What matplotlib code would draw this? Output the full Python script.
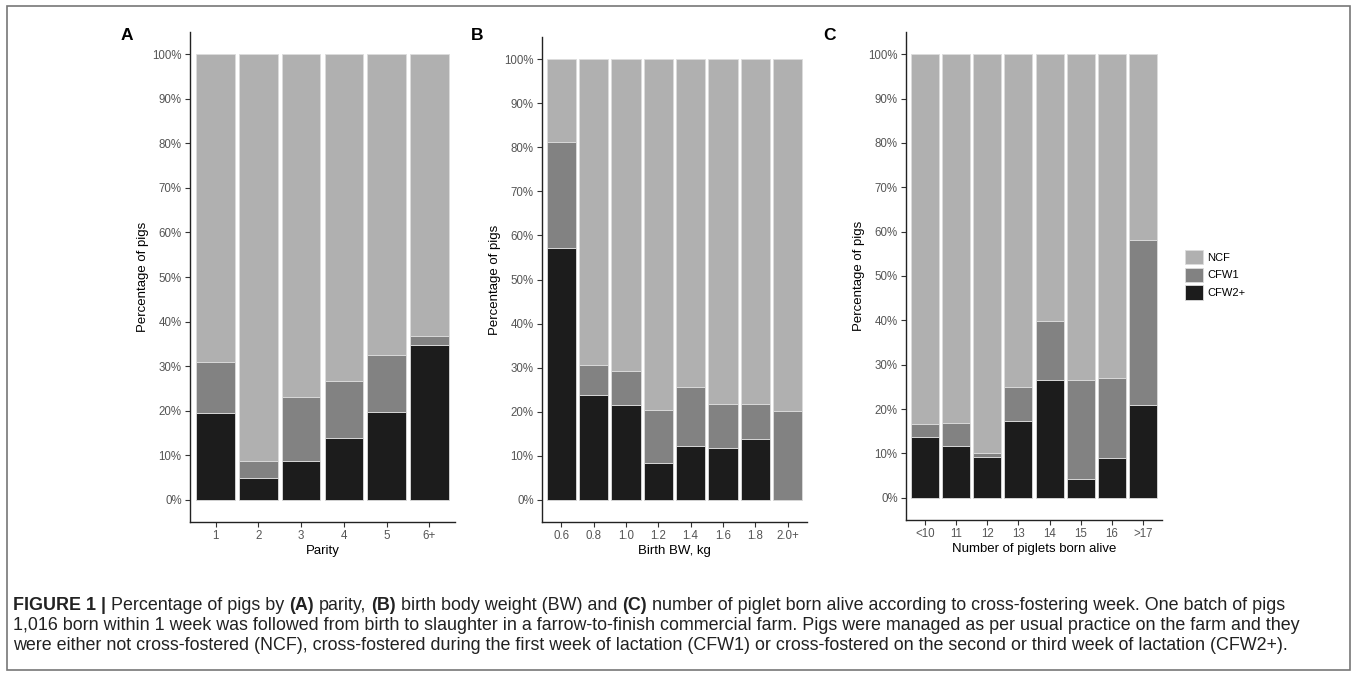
import matplotlib
matplotlib.use("Agg")
import matplotlib.pyplot as plt
from matplotlib.patches import Patch, Rectangle
from matplotlib.ticker import PercentFormatter

plt.rcParams["font.family"] = ["Liberation Sans", "DejaVu Sans"]

# stacked shares (%) per bar: CFW2+ at the bottom, then CFW1, NCF on top
parity = ["1", "2", "3", "4", "5", "6+"]
parity_cfw2 = [19.4, 4.9, 8.6, 13.8, 19.7, 34.7]
parity_cfw1 = [11.6, 3.8, 14.4, 12.8, 12.8, 2.0]

bw = ["0.6", "0.8", "1.0", "1.2", "1.4", "1.6", "1.8", "2.0+"]
bw_cfw2 = [57.2, 23.8, 21.6, 8.3, 12.2, 11.7, 13.8, 0.0]
bw_cfw1 = [23.9, 6.8, 7.7, 12.0, 13.4, 10.1, 7.9, 20.1]

born = ["<10", "11", "12", "13", "14", "15", "16", ">17"]
born_cfw2 = [13.6, 11.6, 9.2, 17.4, 26.5, 4.2, 8.9, 20.9]
born_cfw1 = [3.0, 5.3, 0.9, 7.6, 13.3, 22.4, 18.0, 37.3]

groups = ["NCF", "CFW1", "CFW2+"]
colors = {"NCF": "#b0b0b0", "CFW1": "#828282", "CFW2+": "#1c1c1c"}

W, H = 1357, 677
fig = plt.figure(figsize=(W / 100, H / 100), dpi=100)


def px_axes(left, top, right, bottom):
    return fig.add_axes([left / W, 1 - bottom / H, (right - left) / W, (bottom - top) / H])


def panel(ax, cats, cfw2, cfw1, xlabel):
    x = list(range(1, len(cats) + 1))
    ncf = [100 - a - b for a, b in zip(cfw2, cfw1)]
    kw = dict(width=0.9, edgecolor="#dcdcdc", linewidth=0.6)
    ax.bar(x, cfw2, color=colors["CFW2+"], **kw)
    ax.bar(x, cfw1, bottom=cfw2, color=colors["CFW1"], **kw)
    ax.bar(x, ncf, bottom=[a + b for a, b in zip(cfw2, cfw1)], color=colors["NCF"], **kw)
    ax.set_xlim(0.4, len(cats) + 0.6)
    ax.set_ylim(-5, 105)
    ax.set_yticks(range(0, 101, 10))
    ax.yaxis.set_major_formatter(PercentFormatter(decimals=0))
    ax.set_xticks(x)
    ax.set_xticklabels(cats)
    for s in ("top", "right"):
        ax.spines[s].set_visible(False)
    for s in ("left", "bottom"):
        ax.spines[s].set_color("#222222")
        ax.spines[s].set_linewidth(1.0)
    ax.tick_params(length=3.5, width=0.8, color="#333333", labelcolor="#555555",
                   labelsize=8.3, pad=2.5)
    ax.set_ylabel("Percentage of pigs", fontsize=9.5, labelpad=2)
    ax.set_xlabel(xlabel, fontsize=9.5, labelpad=2)


axA = px_axes(190, 32, 455, 522)
axB = px_axes(542, 37, 807, 522)
axC = px_axes(906, 32, 1162, 520)
panel(axA, parity, parity_cfw2, parity_cfw1, "Parity")
panel(axB, bw, bw_cfw2, bw_cfw1, "Birth BW, kg")
panel(axC, born, born_cfw2, born_cfw1, "Number of piglets born alive")

for lab, xp in (("A", 127), ("B", 477), ("C", 830)):
    fig.text(xp / W, 1 - 35 / H, lab, fontsize=12.5, fontweight="bold", ha="center", va="center")

handles = [Patch(facecolor=colors[g], edgecolor="#dcdcdc", linewidth=0.6, label=g) for g in groups]
fig.legend(handles=handles, loc="upper left", bbox_to_anchor=(1185 / W, 1 - 250 / H),
           frameon=False, fontsize=8, handlelength=1.6, handleheight=1.6,
           handletextpad=0.4, labelspacing=0.3, borderpad=0, borderaxespad=0)

# outer frame
fig.patches.append(Rectangle((7 / W, 1 - 670 / H), 1343 / W, 664 / H, transform=fig.transFigure,
                             fill=False, edgecolor="#777777", linewidth=1.2))

caption = [
    [("FIGURE 1 |", True), (" Percentage of pigs by ", False), ("(A)", True), (" parity, ", False),
     ("(B)", True), (" birth body weight (BW) and ", False), ("(C)", True),
     (" number of piglet born alive according to cross-fostering week. One batch of pigs", False)],
    [("1,016 born within 1 week was followed from birth to slaughter in a farrow-to-finish "
      "commercial farm. Pigs were managed as per usual practice on the farm and they", False)],
    [("were either not cross-fostered (NCF), cross-fostered during the first week of lactation "
      "(CFW1) or cross-fostered on the second or third week of lactation (CFW2+).", False)],
]

renderer = fig.canvas.get_renderer()
cap_size = 12.9


def text_width(s, bold):
    t = fig.text(0, 0, s, fontsize=cap_size, fontweight="bold" if bold else "normal")
    w = t.get_window_extent(renderer).width
    t.remove()
    return w


space_w = text_width("a a", False) - text_width("aa", False)
for i, line in enumerate(caption):
    xp = 13.0
    yp = H - (610 + 20 * i)
    for seg, bold in line:
        lead = len(seg) - len(seg.lstrip(" "))
        trail = len(seg) - len(seg.rstrip(" "))
        core = seg.strip(" ")
        xp += lead * space_w
        t = fig.text(xp / W, yp / H, core, fontsize=cap_size, color="#222222",
                     fontweight="bold" if bold else "normal", va="baseline")
        xp += t.get_window_extent(renderer).width + trail * space_w

fig.savefig("out.png", dpi=100)
